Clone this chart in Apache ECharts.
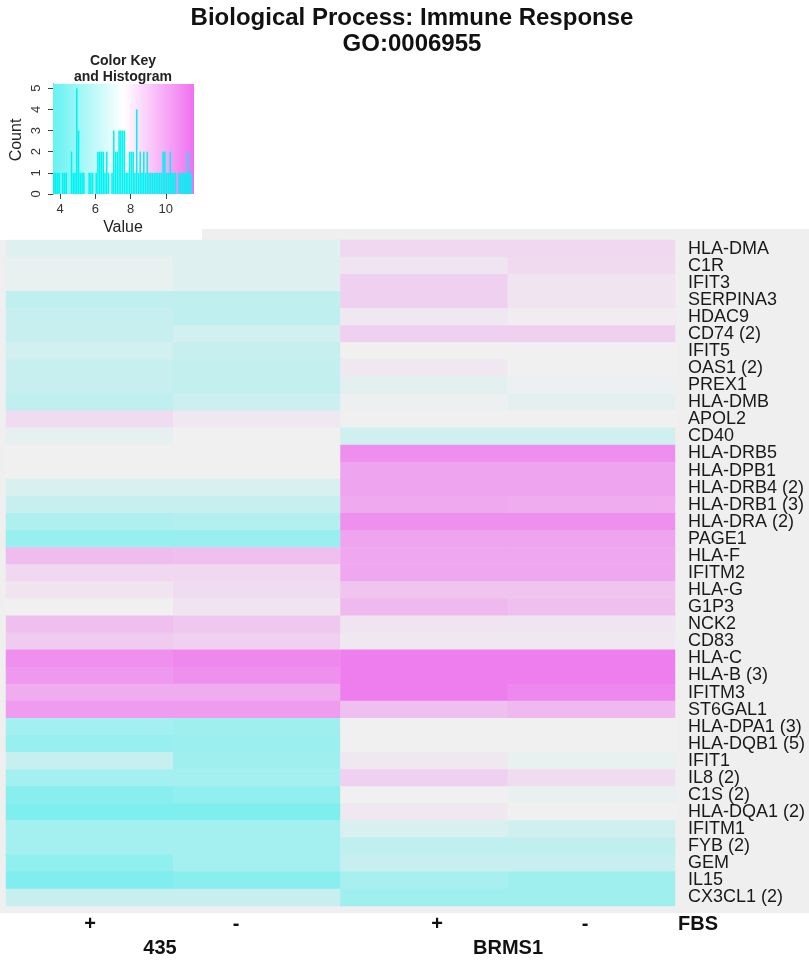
<!DOCTYPE html>
<html>
<head>
<meta charset="utf-8">
<script src="https://cdn.jsdelivr.net/npm/echarts@6/dist/echarts.min.js"></script>
<style>
  html, body { margin: 0; padding: 0; background: #ffffff; }
  #chart { width: 809px; height: 962px; }
</style>
</head>
<body>
<div id="chart"></div>
<script>
// ---------------- DATA ----------------
const rowLabels = [
  'HLA-DMA','C1R','IFIT3','SERPINA3','HDAC9','CD74 (2)','IFIT5','OAS1 (2)','PREX1','HLA-DMB',
  'APOL2','CD40','HLA-DRB5','HLA-DPB1','HLA-DRB4 (2)','HLA-DRB1 (3)','HLA-DRA (2)','PAGE1','HLA-F','IFITM2',
  'HLA-G','G1P3','NCK2','CD83','HLA-C','HLA-B (3)','IFITM3','ST6GAL1','HLA-DPA1 (3)','HLA-DQB1 (5)',
  'IFIT1','IL8 (2)','C1S (2)','HLA-DQA1 (2)','IFITM1','FYB (2)','GEM','IL15','CX3CL1 (2)'
];
const columnLabels = ['435 +', '435 -', 'BRMS1 +', 'BRMS1 -'];
const fbsLabels = ['+', '-', '+', '-'];
const groupLabels = ['435', 'BRMS1'];

const values435Plus = [
  7.18, 7.45, 7.45, 6.22, 6.47, 6.47, 6.78, 6.47, 6.47, 6.22,
  8.32, 7.39, 7.70, 7.70, 6.96, 6.47, 5.73, 4.99, 9.30, 8.44,
  8.07, 7.70, 9.18, 8.81, 10.65, 10.41, 9.79, 10.28, 5.36, 4.99,
  6.47, 5.36, 4.50, 4.19, 5.36, 5.36, 4.75, 4.25, 6.47
];
const values435Minus = [
  7.18, 7.18, 7.18, 6.22, 6.22, 6.78, 6.47, 6.35, 6.35, 6.59,
  7.95, 7.70, 7.70, 7.70, 6.96, 6.47, 5.85, 4.99, 9.18, 8.44,
  8.32, 8.07, 8.93, 8.68, 10.90, 10.65, 9.79, 10.28, 5.24, 5.12,
  5.24, 5.36, 4.75, 4.19, 5.36, 5.36, 5.36, 4.50, 6.47
];
const valuesBRMS1Plus = [
  8.44, 8.07, 8.68, 8.68, 7.95, 8.68, 7.70, 7.95, 7.33, 7.58,
  7.70, 6.72, 10.72, 10.04, 10.04, 9.85, 10.65, 10.04, 9.92, 9.92,
  9.05, 9.42, 8.07, 7.95, 11.21, 11.21, 11.21, 9.18, 7.70, 7.70,
  7.95, 8.68, 7.70, 7.95, 6.96, 6.22, 6.47, 5.48, 5.24
];
const valuesBRMS1Minus = [
  8.44, 8.38, 8.07, 8.07, 7.82, 8.68, 7.70, 7.70, 7.58, 7.33,
  7.70, 6.72, 10.72, 10.04, 10.04, 9.80, 10.65, 10.04, 9.92, 9.92,
  9.05, 9.18, 8.07, 7.95, 11.21, 11.21, 10.90, 9.42, 7.70, 7.70,
  7.45, 8.32, 7.45, 7.70, 6.72, 6.22, 6.47, 5.24, 5.24
];

// Histogram of the colour key: bins of width 0.1 starting at 3.6
const histBinStart = 3.6;
const histBinWidth = 0.1;
const histCounts = [
  1, 1, 1, 1, 0, 1, 1, 1, 0, 0,
  2, 1, 1, 5, 3, 1, 1, 1, 0, 0,
  1, 1, 1, 0, 1, 2, 2, 2, 2, 1,
  2, 1, 0, 1, 3, 2, 2, 3, 3, 3,
  3, 1, 1, 2, 2, 2, 1, 4, 1, 2,
  1, 2, 1, 2, 1, 1, 1, 1, 1, 1,
  1, 1, 2, 2, 1, 1, 2, 1, 1, 1,
  0, 1, 1, 1, 1, 1, 2, 1, 1, 0
];
const keyTicks = [4, 6, 8, 10];
const countTicks = [0, 1, 2, 3, 4, 5];

// ---------------- BUILD ----------------
const FONT = 'Liberation Sans, Arial, sans-serif';
const columns = [values435Plus, values435Minus, valuesBRMS1Plus, valuesBRMS1Minus];
const heatData = [];
columns.forEach((col, ci) => {
  col.forEach((v, ri) => heatData.push([ci, ri, v]));
});
const histCats = histCounts.map((_, i) => (histBinStart + i * histBinWidth).toFixed(1));

const chart = echarts.init(document.getElementById('chart'), null, { renderer: 'canvas' });

const HM = { left: 6, right: 675, top: 240, bottom: 906 };
const HG = { left: 53, right: 194, top: 84, bottom: 194 };

const option = {
  animation: false,
  backgroundColor: '#ffffff',
  textStyle: { fontFamily: FONT },
  grid: [
    { left: HM.left, top: HM.top, width: HM.right - HM.left, height: HM.bottom - HM.top, containLabel: false },
    { left: HG.left, top: HG.top, width: HG.right - HG.left, height: HG.bottom - HG.top, containLabel: false }
  ],
  xAxis: [
    { type: 'category', gridIndex: 0, data: columnLabels, show: false },
    { type: 'category', gridIndex: 1, data: histCats, show: false, boundaryGap: true },
    {
      type: 'value', gridIndex: 1, min: histBinStart, max: histBinStart + histCounts.length * histBinWidth,
      position: 'bottom',
      axisLine: { show: false },
      axisTick: { show: true, length: 5, lineStyle: { color: '#444' }, customValues: keyTicks },
      axisLabel: { show: true, color: '#333', fontSize: 13, fontFamily: FONT, margin: 9, customValues: keyTicks },
      splitLine: { show: false }
    }
  ],
  yAxis: [
    {
      type: 'category', gridIndex: 0, data: rowLabels, inverse: true, position: 'right',
      axisLine: { show: false }, axisTick: { show: false }, splitLine: { show: false },
      axisLabel: { color: '#1a1a1a', fontSize: 18, fontFamily: FONT, margin: 13, interval: 0 }
    },
    {
      type: 'value', gridIndex: 1, min: 0, max: 5.2,
      axisLine: { show: true, lineStyle: { color: '#444' } },
      axisTick: { show: true, length: 5, lineStyle: { color: '#444' }, customValues: countTicks },
      axisLabel: { show: true, rotate: 90, color: '#333', fontSize: 13, fontFamily: FONT, margin: 10, customValues: countTicks },
      splitLine: { show: false }
    }
  ],
  visualMap: {
    type: 'continuous', show: false, seriesIndex: 0,
    min: 3.7, max: 11.7,
    inRange: { color: ['#6eeeee', '#f0f0f0', '#ee6eee'] }
  },
  series: [
    {
      type: 'heatmap', xAxisIndex: 0, yAxisIndex: 0, data: heatData,
      itemStyle: { borderWidth: 0 }, emphasis: { disabled: true }, z: 3
    },
    {
      type: 'bar', xAxisIndex: 1, yAxisIndex: 1, data: histCounts,
      barCategoryGap: '12%', itemStyle: { color: '#00f2f2' }, z: 3, silent: true
    }
  ],
  graphic: [
    // grey panel behind the heatmap
    { type: 'rect', z: 0, shape: { x: 0, y: 229, width: 809, height: 684 }, style: { fill: '#efefef' } },
    { type: 'rect', z: 0, shape: { x: 0, y: 229, width: 202, height: 11 }, style: { fill: '#ffffff' } },
    // colour key gradient
    {
      type: 'rect', z: 1,
      shape: { x: HG.left, y: HG.top, width: HG.right - HG.left, height: HG.bottom - HG.top },
      style: {
        fill: new echarts.graphic.LinearGradient(0, 0, 1, 0, [
          { offset: 0, color: '#66f2f2' },
          { offset: 0.5, color: '#ffffff' },
          { offset: 1, color: '#f070f0' }
        ])
      }
    },
    // titles
    { type: 'text', z: 10, x: 412, y: 6, style: { text: 'Biological Process: Immune Response', fill: '#111', font: 'bold 24px ' + FONT, textAlign: 'center' } },
    { type: 'text', z: 10, x: 412, y: 32, style: { text: 'GO:0006955', fill: '#111', font: 'bold 24px ' + FONT, textAlign: 'center' } },
    { type: 'text', z: 10, x: 123, y: 54, style: { text: 'Color Key', fill: '#222', font: 'bold 14px ' + FONT, textAlign: 'center' } },
    { type: 'text', z: 10, x: 123, y: 70, style: { text: 'and Histogram', fill: '#222', font: 'bold 14px ' + FONT, textAlign: 'center' } },
    { type: 'text', z: 10, x: 123, y: 220, style: { text: 'Value', fill: '#222', font: '16px ' + FONT, textAlign: 'center' } },
    { type: 'text', z: 10, x: 9, y: 140, rotation: Math.PI / 2, style: { text: 'Count', fill: '#222', font: '16px ' + FONT, textAlign: 'center' } },
    // bottom labels
    { type: 'text', z: 10, x: 90, y: 914, style: { text: fbsLabels[0], fill: '#111', font: 'bold 20px ' + FONT, textAlign: 'center' } },
    { type: 'text', z: 10, x: 236, y: 914, style: { text: fbsLabels[1], fill: '#111', font: 'bold 20px ' + FONT, textAlign: 'center' } },
    { type: 'text', z: 10, x: 437, y: 914, style: { text: fbsLabels[2], fill: '#111', font: 'bold 20px ' + FONT, textAlign: 'center' } },
    { type: 'text', z: 10, x: 585, y: 914, style: { text: fbsLabels[3], fill: '#111', font: 'bold 20px ' + FONT, textAlign: 'center' } },
    { type: 'text', z: 10, x: 698, y: 914, style: { text: 'FBS', fill: '#111', font: 'bold 20px ' + FONT, textAlign: 'center' } },
    { type: 'text', z: 10, x: 160, y: 938, style: { text: groupLabels[0], fill: '#111', font: 'bold 20px ' + FONT, textAlign: 'center' } },
    { type: 'text', z: 10, x: 508, y: 938, style: { text: groupLabels[1], fill: '#111', font: 'bold 20px ' + FONT, textAlign: 'center' } }
  ]
};
chart.setOption(option);
</script>
</body>
</html>
